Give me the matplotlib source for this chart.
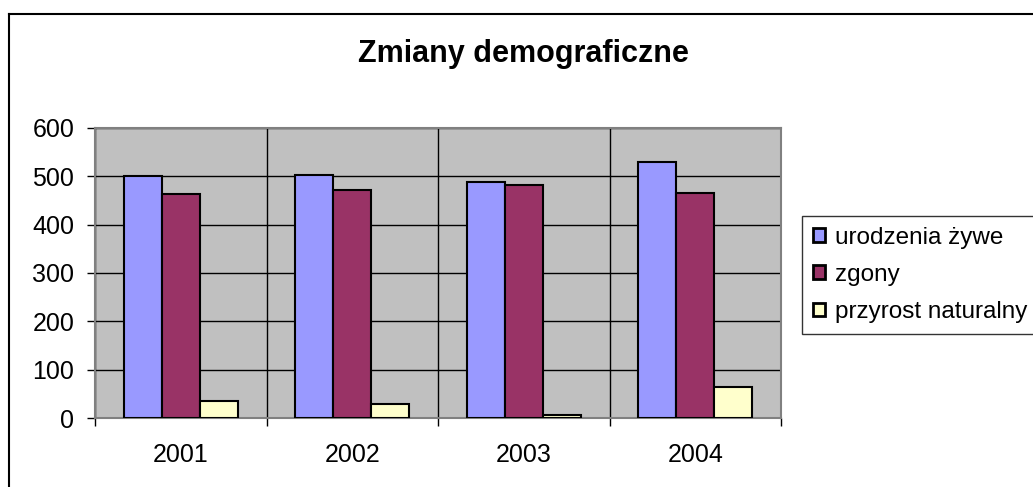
import matplotlib
matplotlib.use("Agg")
import matplotlib.pyplot as plt
from matplotlib.lines import Line2D
from matplotlib.patches import Patch
import numpy as np

plt.rcParams['font.family'] = ['Liberation Sans', 'DejaVu Sans']

# Data
years = ["2001", "2002", "2003", "2004"]
series_names = ["urodzenia żywe", "zgony", "przyrost naturalny"]
urodzenia = [500, 502, 489, 530]
zgony = [464, 472, 483, 466]
przyrost = [36, 30, 6, 64]
colors = ["#9999FF", "#993366", "#FFFFCC"]

W, H = 1033, 487
fig = plt.figure(figsize=(W / 100, H / 100), dpi=100)
ax = fig.add_axes([95 / W, (H - 418) / H, 686 / W, 290 / H])
ax.set_facecolor("#C0C0C0")

x = np.arange(len(years))
bar_w = 1 / 4.5  # Excel gap width 150%
for i, (vals, c) in enumerate(zip([urodzenia, zgony, przyrost], colors)):
    ax.bar(x + (i - 1) * bar_w, vals, width=bar_w, color=c,
           edgecolor="black", linewidth=1.5, zorder=3)

ax.set_xlim(-0.5, len(years) - 0.5)
ax.set_ylim(0, 600)
ax.set_yticks(range(0, 601, 100))
ax.set_xticks(x)
ax.set_xticklabels(years)
ax.set_xticks(np.arange(-0.5, len(years), 1), minor=True)
ax.tick_params(axis="x", which="major", length=0, pad=18, labelsize=18)
ax.tick_params(axis="x", which="minor", length=6, width=1, color="black")
ax.tick_params(axis="y", length=6, width=1, color="black", pad=9, labelsize=18)

ax.grid(axis="y", color="black", linewidth=1, zorder=1)
ax.grid(axis="x", which="minor", color="black", linewidth=1, zorder=1)
ax.set_axisbelow(True)
for s in ax.spines.values():
    s.set_color("#808080")
    s.set_linewidth(1.5)

fig.text(523 / W, 1 - 54 / H, "Zmiany demograficzne", ha="center", va="center",
         fontsize=22, fontweight="bold")

# outer chart border (only left and top visible in the crop)
fig.add_artist(Line2D([9 / W, 9 / W], [0, 1 - 14 / H], color="black", lw=1.5))
fig.add_artist(Line2D([9 / W, 1], [1 - 14 / H, 1 - 14 / H], color="black", lw=1.5))

handles = [Patch(facecolor=c, edgecolor="black", linewidth=2) for c in colors]
leg = fig.legend(handles, series_names, loc="upper left",
                 bbox_to_anchor=(802 / W, 1 - 216 / H), fontsize=17.5,
                 frameon=True, fancybox=False, edgecolor="black",
                 handlelength=0.5, handleheight=0.5, handletextpad=0.4,
                 borderpad=0.45, labelspacing=0.62, borderaxespad=0)
leg.get_frame().set_linewidth(1)

fig.savefig("out.png", dpi=100)
